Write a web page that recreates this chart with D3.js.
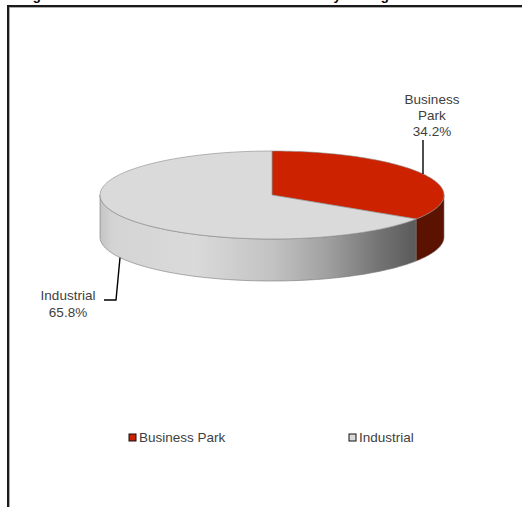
<!DOCTYPE html>
<html><head><meta charset="utf-8">
<script src="https://cdn.jsdelivr.net/npm/d3@7"></script>
<style>html,body{margin:0;padding:0;background:#fff;}svg{display:block;font-family:"Liberation Sans",Arial,sans-serif;}</style>
</head><body>
<svg id="c" width="522" height="507"></svg>
<script>
const categories = ["Business Park", "Industrial"];
const values = [34.2, 65.8];
const labels = ["34.2%", "65.8%"];
const title = "Figure 12: Industrial Market Total Rentable Area by Zoning";

const topColors = ["#cc2200", "#dadada"];
const svg = d3.select("#c");

// frame
svg.append("rect").attr("x", 8).attr("y", 6).attr("width", 540).attr("height", 540)
  .attr("fill", "none").attr("stroke", "#1a1a1a").attr("stroke-width", 2);
svg.append("rect").attr("x", 9.5).attr("y", 7.5).attr("width", 540).attr("height", 540)
  .attr("fill", "none").attr("stroke", "#999").attr("stroke-width", 0.8);

// title (cut off at top, as in the reference)
svg.append("text").attr("x", 21).attr("y", -0.5)
  .attr("font-size", 13.3).attr("font-weight", "bold").attr("fill", "#000").text(title);

const cx = 272, cy = 195, rx = 172, ry = 44, depth = 42;
const pie = d3.pie().sort(null).value(d => d);
const arcs = pie(values);
const px = a => cx + rx * Math.sin(a);
const py = a => cy - ry * Math.cos(a);

function topPath(a0, a1) {
  const n = 80, pts = [[cx, cy]];
  for (let i = 0; i <= n; i++) { const a = a0 + (a1 - a0) * i / n; pts.push([px(a), py(a)]); }
  return d3.line()(pts) + "Z";
}
function wallPath(a0, a1) {
  const n = 80, pts = [];
  for (let i = 0; i <= n; i++) { const a = a0 + (a1 - a0) * i / n; pts.push([px(a), py(a)]); }
  for (let i = n; i >= 0; i--) { const a = a0 + (a1 - a0) * i / n; pts.push([px(a), py(a) + depth]); }
  return d3.line()(pts) + "Z";
}

const defs = svg.append("defs");
const g1 = defs.append("linearGradient").attr("id", "wallInd").attr("gradientUnits", "userSpaceOnUse")
  .attr("x1", cx - rx).attr("x2", px(arcs[1].startAngle)).attr("y1", 0).attr("y2", 0);
[[0, "#c4c4c4"], [0.04, "#d4d4d4"], [0.3, "#dadada"], [0.55, "#c2c2c2"], [0.72, "#a0a0a0"], [0.88, "#747474"], [1, "#5a5a5a"]]
  .forEach(([o, c]) => g1.append("stop").attr("offset", o).attr("stop-color", c));

const pieG = svg.append("g");
const wallColors = ["#5c1200", "url(#wallInd)"];
// walls: visible front half (PI/2 .. 3PI/2)
arcs.forEach((d, i) => {
  const a0 = Math.max(d.startAngle, Math.PI / 2), a1 = Math.min(d.endAngle, 3 * Math.PI / 2);
  if (a1 > a0) pieG.append("path").attr("d", wallPath(a0, a1)).attr("fill", wallColors[i])
    .attr("stroke", "#777").attr("stroke-width", 0.6);
});
arcs.forEach((d, i) => {
  pieG.append("path").attr("d", topPath(d.startAngle, d.endAngle)).attr("fill", topColors[i])
    .attr("stroke", "#8a8a8a").attr("stroke-width", 0.6);
});

// labels
const fs = 13.5;
const lab = svg.append("g").attr("font-size", fs).attr("fill", "#404040").attr("text-anchor", "middle");
const t1 = lab.append("text").attr("x", 432).attr("y", 104);
["Business", "Park", labels[0]].forEach((s, i) => t1.append("tspan").attr("x", 432).attr("dy", i ? 16 : 0).text(s));
const t2 = lab.append("text").attr("x", 68).attr("y", 300);
["Industrial", labels[1]].forEach((s, i) => t2.append("tspan").attr("x", 68).attr("dy", i ? 17 : 0).text(s));

// leader lines anchored on slice rims
const la = Math.asin((423 - cx) / rx);            // back rim of Business Park top
svg.append("path").attr("d", d3.line()([[px(la), 140], [px(la), py(la)]]))
  .attr("stroke", "#000").attr("stroke-width", 1.4).attr("fill", "none");
const lb = Math.PI + Math.asin((cx - 120) / rx);  // front-bottom rim of Industrial wall
svg.append("path").attr("d", d3.line()([[104, 300], [116, 300], [px(lb), py(lb) + depth]]))
  .attr("stroke", "#000").attr("stroke-width", 1.4).attr("fill", "none");

// legend
const leg = svg.append("g");
const legX = [129, 349];
categories.forEach((c, i) => {
  leg.append("rect").attr("x", legX[i]).attr("y", 434).attr("width", 7).attr("height", 7)
    .attr("fill", topColors[i]).attr("stroke", "#111").attr("stroke-width", 1);
  leg.append("text").attr("x", legX[i] + 10).attr("y", 442).attr("font-size", fs).attr("fill", "#404040").text(c);
});
</script>
</body></html>
